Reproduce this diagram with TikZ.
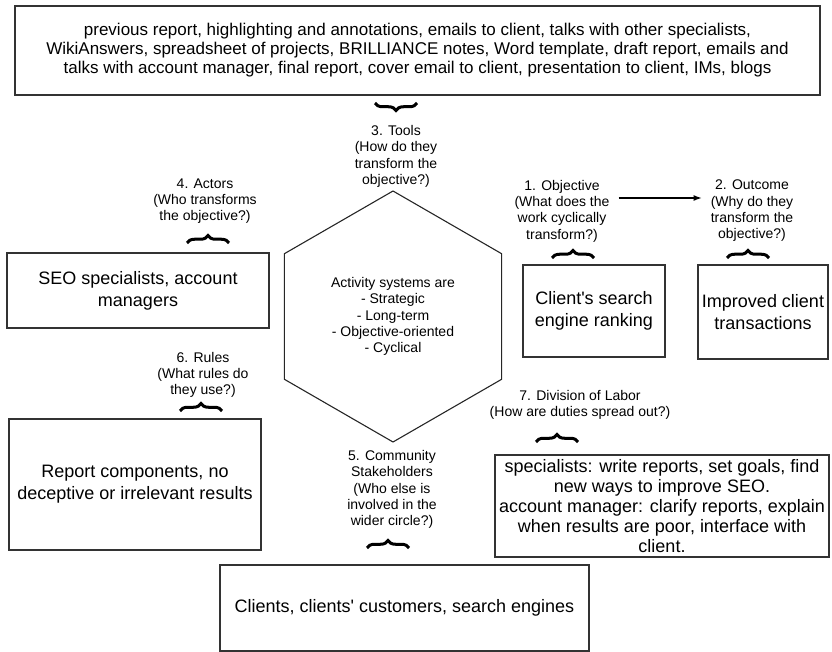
\documentclass[tikz,border=0pt]{standalone}
\usepackage{fontspec}
\setmainfont{Liberation Sans}
\usetikzlibrary{shapes.geometric,arrows.meta,decorations.pathreplacing}
\tikzset{>={Latex}}

\begin{document}
\begin{tikzpicture}[x=1pt, y=-1pt,
  box/.style={draw=black!80, line width=1.1pt, align=center, inner sep=0pt, font=\fontsize{18}{22}\selectfont},
  lab/.style={align=center, inner sep=0pt, font=\fontsize{14}{16.3}\selectfont},
  hexa/.style={draw=black!85, line width=1.1pt, regular polygon, regular polygon sides=6, shape border rotate=30, minimum size=251pt, inner sep=0pt, align=center, font=\fontsize{14}{16.3}\selectfont},
  brc/.style={decorate, decoration={brace, amplitude=7.5pt}, line width=3pt}]
\useasboundingbox (0,0) rectangle (832,652);
\node[box, font=\fontsize{17}{19}\selectfont, minimum width=805pt, minimum height=89pt] (tools) at (417.5,50.5) {previous report, highlighting and annotations, emails to client, talks with other specialists,\\ WikiAnswers, spreadsheet of projects, BRILLIANCE notes, Word template, draft report, emails and\\ talks with account manager, final report, cover email to client, presentation to client, IMs, blogs};
\node[lab] (toolslab) at (396,156.5) {3. Tools\\ (How do they\\ transform the\\ objective?)};
\node[hexa] (actsys) at (393,316.5) {Activity systems are\\ - Strategic\\ - Long-term\\ - Objective-oriented\\ - Cyclical};
\node[lab] (actorslab) at (205,201) {4. Actors\\ (Who transforms\\ the objective?)};
\node[box, minimum width=262pt, minimum height=75pt] (actors) at (138,290.5) {SEO specialists, account\\ managers};
\node[lab] (objlab) at (562,211) {1. Objective\\ (What does the\\ work cyclically\\ transform?)};
\node[box, minimum width=142pt, minimum height=92pt] (obj) at (594,311) {Client\textquotesingle s search\\ engine ranking};
\node[lab] (outlab) at (752,211) {2. Outcome\\ (Why do they\\ transform the\\ objective?)};
\node[box, minimum width=130pt, minimum height=94pt] (out) at (763,312) {Improved client\\ transactions};
\node[lab] (ruleslab) at (203,375) {6. Rules\\ (What rules do\\ they use?)};
\node[box, minimum width=252pt, minimum height=131pt] (rules) at (135,484.5) {Report components, no\\ deceptive or irrelevant results};
\node[lab] (divlab) at (580,405) {7. Division of Labor\\ (How are duties spread out?)};
\node[box, font=\fontsize{18}{20}\selectfont, minimum width=334pt, minimum height=102pt] (div) at (662,506) {specialists: write reports, set goals, find\\ new ways to improve SEO.\\ account manager: clarify reports, explain\\ when results are poor, interface with\\ client.};
\node[lab] (commlab) at (392,489.5) {5. Community\\ Stakeholders\\ (Who else is\\ involved in the\\ wider circle?)};
\node[box, minimum width=369pt, minimum height=86pt] (comm) at (404.5,608) {Clients, clients\textquotesingle\ customers, search engines};
\draw[->, line width=1.1pt, shorten <=9pt, shorten >=9pt] ([yshift=13pt]objlab.east) -- ([yshift=13pt]outlab.west);
% braces over the boxes
\foreach \bx/\by in {208/243, 573/258, 748/258, 201/411, 557/442, 388/548}
  \draw[brc] (\bx-21,\by) -- (\bx+21,\by);
\draw[brc, decoration={brace, mirror, amplitude=7.5pt}] (375,103) -- (417,103);
\end{tikzpicture}
\end{document}
